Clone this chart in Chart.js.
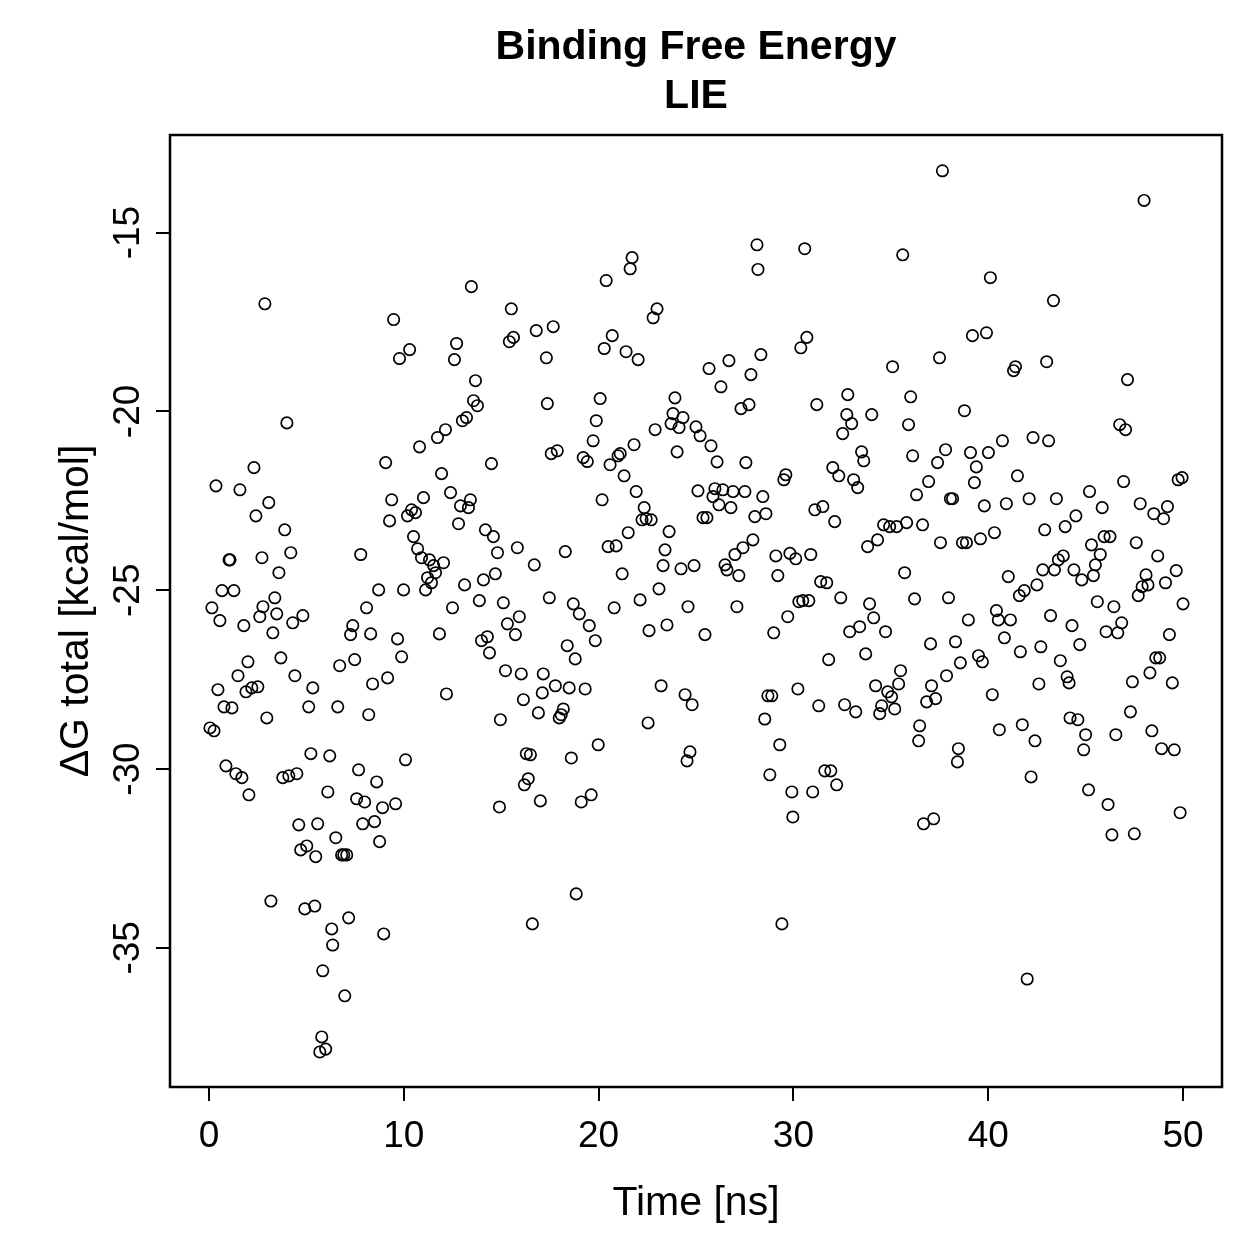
<!DOCTYPE html>
<html><head><meta charset="utf-8">
<script src="https://cdn.jsdelivr.net/npm/chart.js@4/dist/chart.umd.min.js"></script>
<style>html,body{margin:0;padding:0;background:#fff}#wrap{width:1259px;height:1259px}</style>
</head><body><div id="wrap"><canvas id="c" width="1259" height="1259"></canvas></div>
<script>
const titleLines = ["Binding Free Energy", "LIE"];
const xLabel = "Time [ns]";
const yLabel = "\u0394G total [kcal/mol]";
const xTicks = [0, 10, 20, 30, 40, 50];
const yTicks = [-35, -30, -25, -20, -15];

const time = [
0.05,0.26,0.36,0.15,0.46,0.56,0.67,0.77,0.87,1.03,1.08,1.18,1.28,1.38,1.49,1.59,1.69,1.79,1.90,2.00,
2.05,2.20,2.31,2.41,2.51,2.61,2.72,2.77,2.87,2.97,3.07,3.18,3.28,3.38,3.48,3.59,3.69,3.79,3.89,4.00,
4.10,4.20,4.30,4.41,4.51,4.61,4.71,4.82,4.92,5.02,5.12,5.23,5.33,5.43,5.48,5.58,5.69,5.79,5.84,5.99,
6.10,6.20,6.30,6.35,6.51,6.61,6.71,6.81,6.92,6.97,7.07,7.17,7.27,7.38,7.48,7.58,7.68,7.79,7.89,7.99,
8.09,8.20,8.30,8.40,8.50,8.61,8.71,8.76,8.91,8.97,9.07,9.17,9.27,9.38,9.48,9.58,9.68,9.78,9.89,9.99,
10.09,10.19,10.30,10.40,10.50,10.60,10.71,10.81,10.91,11.01,11.12,11.22,11.32,11.42,11.53,11.63,11.73,11.83,11.94,12.04,
12.14,12.19,12.40,12.50,12.60,12.71,12.81,12.91,13.01,13.12,13.22,13.32,13.42,13.47,13.58,13.68,13.78,13.88,13.99,14.09,
14.19,14.29,14.40,14.50,14.60,14.70,14.81,14.91,14.96,15.11,15.22,15.32,15.42,15.52,15.63,15.73,15.83,15.93,16.03,16.14,
16.19,16.29,16.39,16.50,16.60,16.70,16.80,16.91,17.01,17.11,17.16,17.32,17.37,17.47,17.57,17.67,17.78,17.88,17.98,18.08,
18.19,18.29,18.39,18.49,18.60,18.70,18.80,18.85,19.01,19.11,19.21,19.31,19.42,19.52,19.62,19.72,19.83,19.88,19.98,20.08,
20.18,20.29,20.39,20.49,20.59,20.70,20.80,20.90,21.00,21.11,21.21,21.31,21.41,21.52,21.62,21.72,21.82,21.93,22.03,22.13,
22.23,22.34,22.44,22.54,22.59,22.70,22.80,22.90,23.00,23.10,23.21,23.31,23.41,23.51,23.62,23.72,23.82,23.92,24.03,24.13,
24.23,24.33,24.44,24.54,24.59,24.69,24.80,24.90,25.00,25.10,25.21,25.36,25.46,25.56,25.67,25.77,25.87,25.97,26.08,26.18,
26.28,26.38,26.49,26.59,26.69,26.79,26.90,27.00,27.10,27.20,27.31,27.41,27.51,27.56,27.72,27.82,27.92,28.02,28.13,28.18,
28.33,28.43,28.53,28.59,28.69,28.79,28.89,28.99,29.10,29.20,29.30,29.41,29.51,29.61,29.71,29.82,29.92,29.97,30.12,30.23,
30.28,30.38,30.48,30.58,30.69,30.79,30.89,30.99,31.10,31.20,31.30,31.40,31.51,31.61,31.71,31.81,31.92,32.02,32.12,32.22,
32.33,32.43,32.53,32.63,32.74,32.79,32.89,32.99,33.09,33.20,33.30,33.40,33.50,33.61,33.71,33.81,33.91,34.02,34.12,34.22,
34.32,34.43,34.53,34.63,34.73,34.84,34.94,35.04,35.09,35.20,35.30,35.40,35.50,35.61,35.71,35.81,35.91,36.02,36.12,36.22,
36.32,36.43,36.48,36.63,36.68,36.84,36.94,37.04,37.09,37.20,37.30,37.40,37.50,37.55,37.65,37.81,37.86,37.96,38.06,38.17,
38.32,38.42,38.47,38.57,38.68,38.78,38.88,38.98,39.09,39.19,39.29,39.39,39.50,39.60,39.70,39.80,39.91,40.01,40.11,40.21,
40.32,40.42,40.52,40.57,40.73,40.83,40.93,41.03,41.14,41.30,41.40,41.50,41.60,41.65,41.75,41.85,42.00,42.10,42.20,42.30,
42.40,42.50,42.60,42.70,42.80,42.90,43.00,43.10,43.20,43.35,43.40,43.50,43.60,43.70,43.85,43.95,44.05,44.15,44.20,44.30,
44.40,44.50,44.60,44.70,44.80,44.90,45.00,45.15,45.20,45.30,45.40,45.50,45.60,45.75,45.85,45.95,46.05,46.15,46.25,46.35,
46.45,46.55,46.65,46.75,46.85,46.95,47.05,47.15,47.30,47.40,47.50,47.60,47.70,47.80,47.90,48.00,48.10,48.20,48.30,48.40,
48.50,48.60,48.70,48.80,48.90,49.00,49.10,49.20,49.30,49.45,49.55,49.65,49.75,49.85,49.95,50.00
];

const dG = [
-28.85,-28.93,-22.08,-25.49,-27.78,-25.85,-25.01,-28.26,-29.91,-24.15,-24.15,-28.29,-25.01,-30.13,-27.39,-22.19,-30.24,-25.99,-27.84,-27.00,
-30.72,-27.73,-21.57,-22.92,-27.70,-25.74,-24.09,-25.46,-16.99,-28.57,-22.55,-33.69,-26.19,-25.21,-25.66,-24.51,-26.89,-30.24,-23.31,-20.32,
-30.19,-23.95,-25.91,-27.39,-30.13,-31.56,-32.26,-25.71,-33.91,-32.15,-28.26,-29.57,-27.73,-33.83,-32.45,-31.53,-37.91,-37.49,-35.64,-37.83,
-30.64,-29.63,-34.47,-34.92,-31.92,-28.26,-27.11,-32.40,-32.40,-36.34,-32.40,-34.16,-26.24,-25.99,-26.94,-30.83,-30.02,-24.00,-31.53,-30.92,
-25.49,-28.48,-26.22,-27.62,-31.47,-30.36,-24.99,-32.03,-31.08,-34.61,-21.43,-27.45,-23.06,-22.47,-17.43,-30.97,-26.36,-18.52,-26.86,-24.99,
-29.74,-22.92,-18.27,-22.75,-23.50,-22.83,-23.84,-20.99,-24.09,-22.41,-24.99,-24.65,-24.15,-24.79,-24.31,-24.51,-20.73,-26.22,-21.74,-24.23,
-20.51,-27.90,-22.27,-25.49,-18.55,-18.10,-23.14,-22.64,-20.26,-24.85,-20.17,-22.69,-22.47,-16.51,-19.70,-19.14,-19.84,-25.29,-26.41,-24.71,
-23.31,-26.30,-26.75,-21.46,-23.50,-24.54,-23.95,-31.06,-28.62,-25.35,-27.25,-25.94,-18.05,-17.13,-17.93,-26.24,-23.81,-25.74,-27.34,-28.06,
-30.44,-29.57,-30.27,-29.60,-34.33,-24.29,-17.74,-28.43,-30.89,-27.87,-27.34,-18.50,-19.78,-25.21,-21.18,-17.63,-27.67,-21.10,-28.57,-28.48,
-28.32,-23.92,-26.55,-27.73,-29.69,-25.38,-26.92,-33.49,-25.66,-30.92,-21.29,-27.76,-21.40,-25.99,-30.72,-20.82,-26.41,-20.26,-29.32,-19.64,
-22.47,-18.24,-16.34,-23.78,-21.49,-17.88,-25.49,-23.76,-21.24,-21.18,-24.54,-21.80,-18.33,-23.39,-16.01,-15.70,-20.93,-22.24,-18.55,-25.27,
-23.03,-22.69,-23.00,-28.71,-26.13,-23.03,-17.38,-20.51,-17.13,-24.96,-27.67,-24.31,-23.87,-25.97,-23.36,-20.34,-20.06,-19.62,-21.13,-20.45,
-24.40,-20.17,-27.92,-29.77,-25.46,-29.52,-28.20,-24.31,-20.43,-22.22,-20.68,-22.97,-26.24,-22.97,-18.80,-20.96,-22.38,-22.16,-21.41,-22.61,
-19.31,-22.19,-24.29,-24.43,-18.58,-22.69,-22.24,-24.00,-25.46,-24.59,-19.92,-23.81,-22.24,-21.43,-19.81,-18.97,-23.59,-22.94,-15.34,-16.03,
-18.41,-22.38,-28.60,-22.86,-27.95,-30.16,-27.95,-26.19,-24.04,-24.59,-29.32,-34.33,-21.91,-21.77,-25.74,-23.97,-30.64,-31.34,-24.12,-27.76,
-25.32,-18.22,-25.29,-15.45,-17.93,-25.29,-24.00,-30.64,-22.75,-19.81,-28.23,-24.76,-22.66,-30.05,-24.79,-26.94,-30.05,-21.57,-23.08,-30.44,
-21.80,-25.21,-20.62,-28.20,-20.09,-19.53,-26.16,-20.34,-21.91,-28.40,-22.13,-26.02,-21.13,-21.38,-26.78,-23.78,-25.38,-20.09,-25.77,-27.67,
-23.59,-28.45,-28.23,-23.17,-26.16,-27.84,-23.22,-27.98,-18.75,-28.32,-23.22,-27.62,-27.25,-15.62,-24.51,-23.11,-20.37,-19.59,-21.24,-25.24,
-22.33,-29.21,-28.79,-23.17,-31.53,-28.12,-21.96,-26.50,-27.67,-31.39,-28.03,-21.43,-18.50,-23.67,-13.27,-21.07,-27.39,-25.21,-22.44,-22.44,
-26.44,-29.80,-29.43,-27.03,-23.67,-19.98,-23.67,-25.83,-21.15,-17.88,-21.99,-21.55,-26.83,-23.56,-27.00,-22.64,-17.80,-21.15,-16.26,-27.92,
-23.39,-25.57,-25.83,-28.90,-20.82,-26.33,-22.58,-24.62,-25.83,-18.86,-18.75,-21.80,-25.15,-26.72,-28.76,-25.01,-35.87,-22.44,-30.22,-20.73,
-29.21,-24.85,-27.62,-26.58,-24.43,-23.31,-18.61,-20.82,-25.71,-16.90,-24.43,-22.44,-24.15,-26.97,-24.04,-23.22,-27.42,-27.59,-28.57,-25.99,
-24.43,-22.92,-28.62,-26.52,-24.71,-29.46,-29.04,-30.58,-22.24,-23.73,-24.59,-24.29,-25.32,-24.00,-22.69,-23.50,-26.16,-30.99,-23.50,-31.84,
-25.46,-29.04,-26.19,-20.37,-25.91,-21.96,-20.51,-19.11,-28.40,-27.56,-31.81,-23.67,-25.15,-22.58,-24.90,-14.10,-24.57,-24.85,-27.31,-28.93,
-22.86,-26.89,-24.04,-26.89,-29.43,-23.00,-24.79,-22.66,-26.24,-27.59,-29.46,-24.45,-21.91,-31.22,-21.85,-25.38
];

const FONT = "'Liberation Sans', Arial, Helvetica, sans-serif";
const points = time.map((t, i) => ({ x: t, y: dG[i] }));

const frameAndTitle = {
  id: 'frameAndTitle',
  afterDraw(chart) {
    const { ctx, chartArea: a } = chart;
    ctx.save();
    ctx.strokeStyle = '#000';
    ctx.lineWidth = 2.5;
    ctx.strokeRect(a.left, a.top, a.right - a.left, a.bottom - a.top);
    ctx.fillStyle = '#000';
    ctx.textAlign = 'center';
    ctx.textBaseline = 'alphabetic';
    ctx.font = "bold 41px " + FONT;
    const cx = (a.left + a.right) / 2;
    ctx.fillText(titleLines[0], cx, 59);
    ctx.fillText(titleLines[1], cx, 108);
    ctx.restore();
  }
};

new Chart(document.getElementById('c'), {
  type: 'scatter',
  data: {
    datasets: [{
      data: points,
      pointStyle: 'circle',
      pointRadius: 5.7,
      pointBorderWidth: 1.7,
      borderColor: '#000',
      backgroundColor: 'rgba(0,0,0,0)',
      pointBackgroundColor: 'rgba(0,0,0,0)',
      pointBorderColor: '#000',
      showLine: false
    }]
  },
  options: {
    responsive: false,
    animation: false,
    devicePixelRatio: 1,
    layout: { padding: { top: 135, right: 37, bottom: 0, left: 0 } },
    plugins: { legend: { display: false }, tooltip: { enabled: false }, title: { display: false } },
    scales: {
      x: {
        type: 'linear', min: -2, max: 52,
        afterBuildTicks: s => { s.ticks = xTicks.map(v => ({ value: v })); },
        afterFit: s => { s.height = 172; },
        grid: { drawOnChartArea: false, drawTicks: true, tickLength: 14, color: '#000', lineWidth: 2 },
        border: { display: false },
        ticks: { color: '#000', font: { family: FONT, size: 37 }, padding: 14, maxRotation: 0, minRotation: 0, autoSkip: false },
        title: { display: true, text: xLabel, color: '#000', font: { family: FONT, size: 41 }, padding: { top: 0, bottom: 31 } }
      },
      y: {
        type: 'linear', min: -38.89, max: -12.27,
        afterBuildTicks: s => { s.ticks = yTicks.map(v => ({ value: v })); },
        afterFit: s => { s.width = 170; },
        grid: { drawOnChartArea: false, drawTicks: true, tickLength: 14, color: '#000', lineWidth: 2 },
        border: { display: false },
        ticks: { color: '#000', font: { family: FONT, size: 37 }, padding: 0, minRotation: 90, maxRotation: 90, crossAlign: 'center', autoSkip: false },
        title: { display: true, text: yLabel, color: '#000', font: { family: FONT, size: 41 }, padding: { top: 52, bottom: 0 } }
      }
    }
  },
  plugins: [frameAndTitle]
});
</script>
</body></html>
